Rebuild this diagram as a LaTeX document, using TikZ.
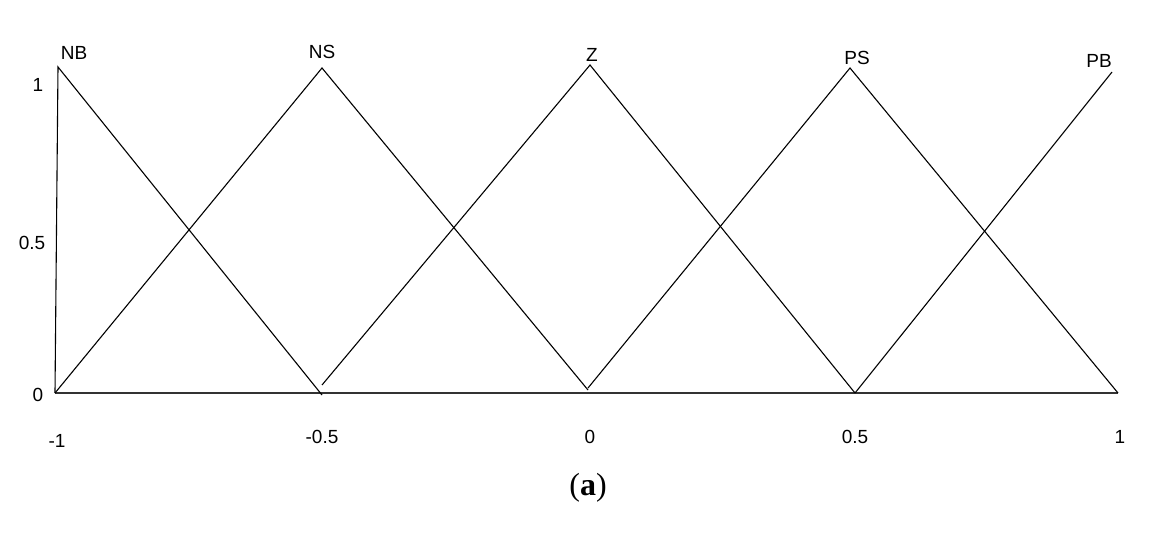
\documentclass[tikz,border=0pt]{standalone}
\usepackage{fontspec}
\setmainfont{Liberation Sans}
\newfontfamily\capfont{Liberation Serif}
\begin{document}
\begin{tikzpicture}[x=1pt,y=-1pt,
  mf/.style={line width=1.1pt,black},
  lbl/.style={font=\fontsize{19}{22}\selectfont,inner sep=0pt}]
\useasboundingbox (0,0) rectangle (1149,559);
\coordinate (o) at (55,393);
\coordinate (e) at (1118,393);
\draw[line width=1.2pt,black!80] (o) -- (e);
% NB
\coordinate (nbt) at (58,67);
\coordinate (nbb) at (322,395);
\draw[mf] (o) -- (nbt) -- (nbb);
% NS
\coordinate (nst) at (322,68);
\coordinate (nse) at (588,390);
\draw[mf] (o) -- (nst) -- (nse);
% Z
\coordinate (zs) at (322,385);
\coordinate (zt) at (590,65);
\coordinate (ze) at (855,393);
\draw[mf] (zs) -- (zt) -- (ze);
% PS
\coordinate (pss) at (588,388);
\coordinate (pst) at (850,68);
\draw[mf] (pss) -- (pst) -- (e);
% PB
\coordinate (pbt) at (1112,72);
\draw[mf] (ze) -- (pbt);
\node[lbl] (lnb) at (74,53) {NB};
\node[lbl] (lns) at (322,52) {NS};
\node[lbl] (lz) at (592,55) {Z};
\node[lbl] (lps) at (857,58) {PS};
\node[lbl] (lpb) at (1099,61) {PB};
\node[lbl] (y1) at (38,85) {1};
\node[lbl] (y05) at (32,243) {0.5};
\node[lbl] (y0) at (38,395) {0};
\node[lbl] (xm1) at (57,441) {-1};
\node[lbl] (xm05) at (322,437) {-0.5};
\node[lbl] (x0) at (590,437) {0};
\node[lbl] (x05) at (855,437) {0.5};
\node[lbl] (x1) at (1120,437) {1};
\node[inner sep=0pt,font=\fontsize{32}{36}\selectfont\capfont] (cap) at (588,488) {(\textbf{a})};
\end{tikzpicture}
\end{document}
